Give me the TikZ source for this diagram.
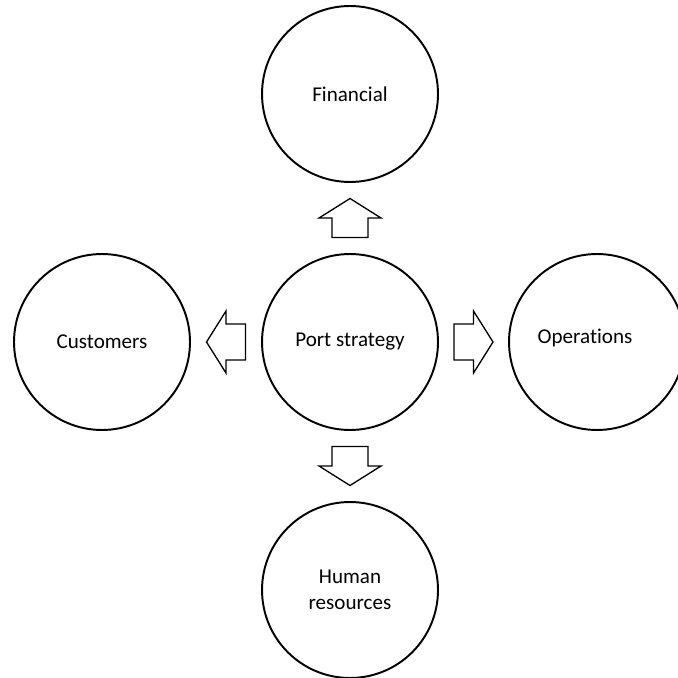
\documentclass[tikz,border=0pt]{standalone}
\usepackage{fontspec}
\setmainfont{Carlito}[Ligatures=NoCommon]
\usetikzlibrary{calc}

\tikzset{
  circ/.style={draw,circle,line width=1.1pt,minimum size=3.52cm,inner sep=0pt,
    align=center,font=\fontsize{12}{14.6}\selectfont},
  blockarr/.pic={
    \draw[line width=0.75pt,fill=white] (-19.5,-18) -- (0,-18) -- (0,-31) -- (19.5,0)
      -- (0,31) -- (0,18) -- (-19.5,18) -- cycle ;
  }
}

\begin{document}
\begin{tikzpicture}[x=0.02cm,y=-0.02cm]
         \useasboundingbox (0,0) rectangle (678,678) ;
         % circles
         \node[circ] (strategy) at (350,342) {Port strategy} ;
         \node[circ] (financial) at (350,94) {Financial} ;
         \node[circ] (customers) at (102,342) {Customers} ;
         \node[circ,label={[xshift=-0.24cm,yshift=0.08cm,font=\fontsize{12}{14.6}\selectfont]center:Operations}] (operations) at (597,342) {} ;
         \node[circ] (human) at (350,590) {Human\\resources} ;
         % block arrows
         \pic[rotate=90] at ($(strategy.north)!0.5!(financial.south)$) {blockarr} ;
         \pic[rotate=180] at ($(strategy.west)!0.5!(customers.east)$) {blockarr} ;
         \pic at ($(strategy.east)!0.5!(operations.west)$) {blockarr} ;
         \pic[rotate=-90] at ($(strategy.south)!0.5!(human.north)$) {blockarr} ;
      \end{tikzpicture}
\end{document}
